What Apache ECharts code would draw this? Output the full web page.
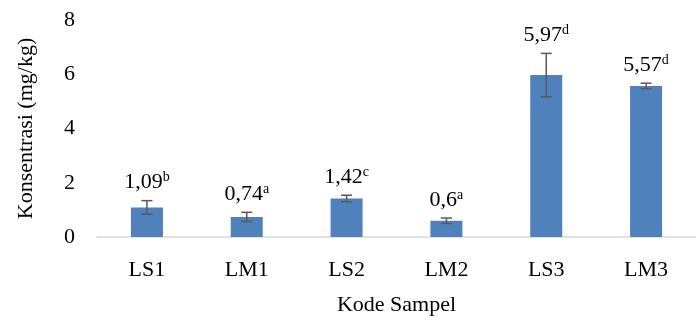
<!DOCTYPE html>
<html><head><meta charset="utf-8">
<script src="https://cdn.jsdelivr.net/npm/echarts@6/dist/echarts.min.js"></script>
<style>html,body{margin:0;padding:0;background:#fff;}#c{width:696px;height:321px;}</style>
</head><body><div id="c"></div>
<script>
var categories = ['LS1','LM1','LS2','LM2','LS3','LM3'];
var values = [1.09, 0.74, 1.42, 0.6, 5.97, 5.57];
var errors = [0.25, 0.17, 0.12, 0.1, 0.8, 0.1];
var labelText = ['1,09','0,74','1,42','0,6','5,97','5,57'];
var letters = ['b','a','c','a','d','d'];
var yTicks = [0, 2, 4, 6, 8];

var FONT = '"Liberation Serif", "Times New Roman", serif';
var chart = echarts.init(document.getElementById('c'));
var errData = values.map(function(v,i){ return [i, v - errors[i], v + errors[i]]; });
chart.setOption({
  animation: false,
  grid: {left: 97, right: -14, top: 20, bottom: 84},
  xAxis: {
    type: 'category', data: categories,
    name: 'Kode Sampel', nameLocation: 'middle', nameGap: 57,
    nameTextStyle: {fontFamily: FONT, fontSize: 22, color: '#000'},
    axisLine: {lineStyle: {color: '#d9d9d9', width: 1.5}},
    axisTick: {show: false},
    axisLabel: {fontFamily: FONT, fontSize: 22, color: '#000', margin: 22}
  },
  yAxis: {
    type: 'value', min: yTicks[0], max: yTicks[yTicks.length-1], interval: 2,
    name: 'Konsentrasi (mg/kg)', nameLocation: 'middle', nameGap: 60,
    nameTextStyle: {fontFamily: FONT, fontSize: 22, color: '#000'},
    axisLine: {show: false}, axisTick: {show: false},
    splitLine: {show: false},
    axisLabel: {fontFamily: FONT, fontSize: 22, color: '#000', margin: 22}
  },
  series: [{
    type: 'bar', data: values, barWidth: 32,
    itemStyle: {color: '#4f81bd'}
  }, {
    type: 'custom', data: errData, z: 10,
    renderItem: function(params, api){
      var i = api.value(0);
      var lo = api.coord([i, api.value(1)]);
      var hi = api.coord([i, api.value(2)]);
      var x = lo[0], c = 5.5;
      var st = {stroke: '#595959', lineWidth: 1.5};
      return {type: 'group', children: [
        {type: 'line', shape: {x1: x, y1: lo[1], x2: x, y2: hi[1]}, style: st},
        {type: 'line', shape: {x1: x-c, y1: lo[1], x2: x+c, y2: lo[1]}, style: st},
        {type: 'line', shape: {x1: x-c, y1: hi[1], x2: x+c, y2: hi[1]}, style: st},
        {type: 'text', x: x, y: hi[1] - 6, style: {
          text: '{v|' + labelText[i] + '}{s|' + letters[i] + '}',
          align: 'center', verticalAlign: 'bottom',
          rich: {
            v: {fontFamily: FONT, fontSize: 22, fill: '#000', lineHeight: 24},
            s: {fontFamily: FONT, fontSize: 14, fill: '#000', verticalAlign: 'top', lineHeight: 24, padding: [0,0,9,0]}
          }
        }}
      ]};
    }
  }]
});
</script></body></html>
